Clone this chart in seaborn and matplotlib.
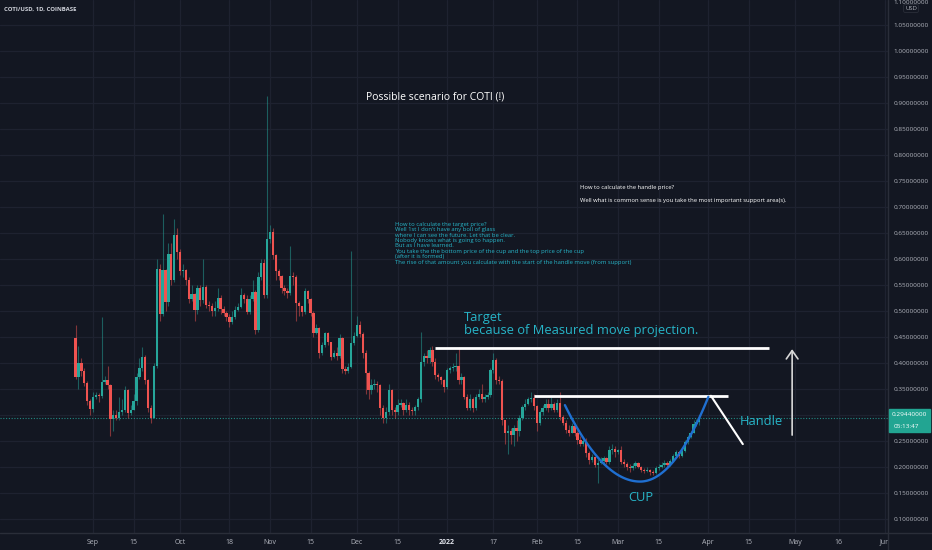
import numpy as np
import pandas as pd
import matplotlib
matplotlib.use("Agg")
import matplotlib.pyplot as plt
import matplotlib.dates as mdates
from matplotlib.patches import Rectangle
import seaborn as sns

# ---------------- data ----------------
START = "2021-08-26"
first_open = 0.449
closes = [
    .374, .40, .385, .361, .326, .312, .335, .339, .336, .364,
    .367, .358, .292, .30, .295, .305, .31, .348, .304, .31,
    .326, .374, .39, .412, .367, .313, .295, .395, .58, .494,
    .578, .518, .61, .56, .646, .613, .577, .578, .56, .523,
    .533, .501, .544, .522, .547, .512, .509, .50, .505, .525,
    .503, .497, .489, .479, .489, .502, .508, .531, .523, .499,
    .523, .537, .463, .566, .593, .531, .638, .652, .608, .577,
    .568, .544, .538, .535, .568, .566, .515, .509, .498, .538,
    .523, .497, .457, .467, .419, .435, .457, .44, .412, .42,
    .413, .448, .388, .385, .392, .438, .452, .474, .455, .42,
    .38, .348,
    .358, .36, .358, .313, .294, .305, .348, .31, .305, .32,
    .324, .31, .32, .31, .307, .316, .33, .402, .414, .41,
    .425, .402, .377, .374, .367, .354, .387, .39, .393, .395,
    .367, .373, .335, .313, .33, .313, .335, .34, .33, .335,
    .338, .387, .405, .367, .365, .29, .265, .27, .262, .275,
    .27, .294, .315, .322, .33,
    .333, .318, .285, .306, .313, .322, .313, .322, .31, .323,
    .296, .285, .271, .266, .278, .265, .252, .245, .25, .227,
    .213, .22, .204, .208, .212, .218, .21, .233, .235, .228,
    .232, .21, .206, .20, .198, .202, .208, .20, .195, .192,
    .195, .19, .188, .198, .20, .204, .208, .204, .212, .222,
    .228, .222, .23, .248, .258, .265, .282, .286, .2944,
]
highs = [
    .473, .433, .41, .39, .365, .33, .345, .345, .342, .489,
    .375, .395, .36, .31, .31, .335, .33, .355, .35, .32,
    .34, .38, .41, .43, .415, .37, .32, .40, .60, .59,
    .687, .58, .63, .63, .677, .66, .62, .59, .58, .565,
    .55, .535, .55, .55, .60, .55, .52, .515, .52, .545,
    .53, .51, .50, .495, .50, .51, .515, .545, .535, .53,
    .53, .56, .54, .575, .60, .60, .913, .665, .66, .61,
    .58, .57, .55, .545, .625, .575, .57, .52, .51, .545,
    .54, .525, .50, .475, .47, .44, .46, .46, .44, .425,
    .43, .455, .45, .395, .40, .616, .46, .49, .48, .46,
    .425, .385,
    .37, .37, .365, .36, .32, .315, .36, .35, .315, .33,
    .33, .325, .33, .325, .315, .32, .335, .46, .42, .425,
    .43, .432, .41, .38, .375, .37, .39, .395, .40, .42,
    .43, .38, .375, .34, .34, .335, .34, .35, .36, .34,
    .345, .39, .42, .41, .375, .37, .29, .28, .275, .28,
    .29, .30, .32, .33, .335,
    .345, .34, .32, .31, .32, .33, .33, .335, .325, .33,
    .345, .30, .29, .28, .285, .285, .27, .26, .255, .255,
    .23, .225, .22, .215, .22, .222, .22, .24, .245, .24,
    .235, .24, .215, .21, .205, .208, .212, .21, .202, .198,
    .20, .197, .195, .202, .205, .21, .213, .212, .216, .225,
    .232, .23, .235, .252, .262, .27, .29, .292, .30,
]
lows = [
    .37, .35, .375, .355, .32, .30, .305, .33, .325, .333,
    .36, .35, .26, .27, .29, .29, .30, .305, .295, .30,
    .31, .32, .37, .385, .36, .305, .285, .295, .39, .48,
    .49, .50, .51, .55, .555, .60, .57, .565, .55, .515,
    .52, .48, .495, .51, .515, .505, .50, .49, .49, .50,
    .495, .49, .48, .47, .475, .485, .50, .505, .515, .495,
    .495, .52, .455, .46, .56, .525, .525, .63, .60, .56,
    .56, .535, .53, .525, .53, .55, .48, .49, .49, .495,
    .515, .49, .45, .455, .41, .415, .43, .435, .405, .41,
    .405, .41, .38, .378, .38, .39, .435, .45, .45, .41,
    .34, .33,
    .34, .35, .345, .30, .285, .285, .30, .30, .295, .30,
    .315, .30, .305, .30, .30, .30, .31, .325, .395, .40,
    .40, .395, .37, .365, .36, .345, .35, .38, .385, .385,
    .36, .36, .33, .31, .31, .305, .31, .33, .325, .325,
    .33, .335, .38, .36, .36, .28, .245, .225, .245, .24,
    .25, .26, .29, .31, .32,
    .325, .31, .27, .28, .30, .31, .305, .31, .305, .305,
    .29, .28, .265, .26, .265, .26, .245, .24, .24, .22,
    .205, .21, .20, .17, .205, .205, .205, .205, .225, .22,
    .225, .205, .20, .195, .19, .195, .198, .198, .19, .188,
    .19, .185, .185, .186, .195, .198, .20, .198, .202, .21,
    .22, .218, .22, .228, .245, .255, .265, .278, .28,
]

last_price = 0.2944
price_ticks = [0.10, 0.15, 0.20, 0.25, 0.35, 0.40, 0.45, 0.50, 0.55, 0.60,
               0.65, 0.70, 0.75, 0.80, 0.85, 0.90, 0.95, 1.00, 1.05]
date_ticks = ["2021-09-01", "2021-09-15", "2021-10-01", "2021-10-18", "2021-11-01",
              "2021-11-15", "2021-12-01", "2021-12-15", "2022-01-01", "2022-01-17",
              "2022-02-01", "2022-02-15", "2022-03-01", "2022-03-15", "2022-04-01",
              "2022-04-15", "2022-05-01", "2022-05-16", "2022-06-01"]
date_labels = ["Sep", "15", "Oct", "18", "Nov", "15", "Dec", "15", "2022", "17",
               "Feb", "15", "Mar", "15", "Apr", "15", "May", "16", "Jun"]

# drawing anchors (date, price)
target_line = (["2021-12-28", "2022-04-22"], [0.429, 0.429])
handle_top = (["2022-01-31", "2022-04-08"], [0.337, 0.337])
handle_diag = (["2022-04-02", "2022-04-13"], [0.337, 0.244])
cup_anchor_dates = ["2022-02-10 16:00", "2022-03-08 14:00", "2022-04-01 03:00"]
cup_anchor_prices = [0.319, 0.172, 0.335]
arrow_date = "2022-04-30"
arrow_prices = [0.256, 0.432]

# ---------------- style ----------------
BG = "#131722"
GRID = "#1e2230"
UP = "#26a69a"
DOWN = "#ef5350"
CYAN = "#27b5c8"
AXTXT = "#b2b5be"

sns.set_theme(style="dark", rc={"axes.facecolor": BG, "figure.facecolor": BG})
plt.rcParams["font.family"] = ["Open Sans", "DejaVu Sans"]

fig = plt.figure(figsize=(9.32, 5.5), dpi=100)
ax = fig.add_axes([0, 17 / 550, 888 / 932, 533 / 550])
ax.set_facecolor(BG)

n = len(closes)
assert len(highs) == n and len(lows) == n
dates = pd.date_range(START, periods=n, freq="D")
x = mdates.date2num(dates)
c = np.array(closes)
o = np.array([first_open] + closes[:-1])
h = np.array(highs)
l = np.array(lows)
up = c >= o
cols = np.where(up, UP, DOWN)

PX_PER_DAY = 2.901
x_sep = mdates.date2num(pd.Timestamp("2021-09-01"))
x0 = x_sep - 93 / PX_PER_DAY
x1 = x0 + 888 / PX_PER_DAY
ax.set_xlim(x0, x1)
ax.set_ylim(1 - 482 / 520, 1 + 51 / 520)

# grid
for pt in price_ticks + [0.30]:
    ax.axhline(pt, color=GRID, lw=0.9, zorder=0)
for d in date_ticks:
    ax.axvline(mdates.date2num(pd.Timestamp(d)), color=GRID, lw=0.9, zorder=0)

# candles
ax.vlines(x, l, h, colors=cols, lw=0.8, alpha=0.5, zorder=2)
body_lo = np.minimum(o, c)
body_h = np.maximum(np.abs(c - o), 0.0015)
ax.bar(x, body_h, bottom=body_lo, width=0.8, color=cols, lw=0, zorder=3)

# last price line
ax.axhline(last_price, color=UP, lw=0.8, ls=(0, (1, 1.5)), alpha=0.8, zorder=1)

# drawings
def dn(ds):
    return mdates.date2num(pd.to_datetime(ds))

ax.plot(dn(target_line[0]), target_line[1], color="white", lw=2, solid_capstyle="butt", zorder=5)
ax.plot(dn(handle_top[0]), handle_top[1], color="white", lw=2, solid_capstyle="butt", zorder=5)
ax.plot(dn(handle_diag[0]), handle_diag[1], color="white", lw=1.5, zorder=5)

cx = dn(cup_anchor_dates)
t = np.linspace(0, 1, 60)
left_x = cx[0] + (cx[1] - cx[0]) * t
left_y = cup_anchor_prices[1] + (cup_anchor_prices[0] - cup_anchor_prices[1]) * (1 - t) ** 2
right_x = cx[1] + (cx[2] - cx[1]) * t
right_y = cup_anchor_prices[1] + (cup_anchor_prices[2] - cup_anchor_prices[1]) * t ** 2
cup_df = pd.DataFrame({"x": np.concatenate([left_x, right_x]),
                       "y": np.concatenate([left_y, right_y])})
sns.lineplot(data=cup_df, x="x", y="y", ax=ax, color="#1f6fd1", lw=1.7, sort=False,
             estimator=None, zorder=6)

ax.annotate("", xy=(dn(arrow_date), arrow_prices[1]), xytext=(dn(arrow_date), arrow_prices[0]),
            arrowprops=dict(arrowstyle="->,head_length=0.5,head_width=0.35", color="#d8d8d8", lw=1.2),
            zorder=6)

# texts
ax.text(dn("2021-12-04"), 0.912, "Possible scenario for COTI (!)", color="white",
        fontsize=7.5, va="center", ha="left", zorder=7)
cyan_block = ("How to calculate the target price?\n"
              "Well 1st I don't have any boll of glass\n"
              "where I can see the future. Let that be clear.\n"
              "Nobody knows what is going to happen.\n"
              "But as I have learned.\n"
              "You take the the bottom price of the cup and the top price of the cup\n"
              "(after it is formed)\n"
              "The rise of that amount you calculate with the start of the handle move (from support)")
ax.text(dn("2021-12-14"), 0.672, cyan_block, color=CYAN, fontsize=4.2, va="top", ha="left",
        linespacing=1.12, zorder=7)
ax.text(dn("2022-02-16"), 0.738, "How to calculate the handle price?", color="white",
        fontsize=4.2, va="center", ha="left", zorder=7)
ax.text(dn("2022-02-16"), 0.712,
        "Well what is common sense is you take the most important support area(s).",
        color="white", fontsize=4.2, va="center", ha="left", zorder=7)
ax.text(dn("2022-01-07"), 0.487, "Target", color=CYAN, fontsize=9.3, va="center", ha="left", zorder=7)
ax.text(dn("2022-01-07"), 0.463, "because of Measured move projection.", color=CYAN, fontsize=9.3,
        va="center", ha="left", zorder=7)
ax.text(dn("2022-03-09"), 0.142, "CUP", color=CYAN, fontsize=9.3, va="center", ha="center", zorder=7)
ax.text(dn("2022-04-12"), 0.287, "Handle", color=CYAN, fontsize=9.3, va="center", ha="left", zorder=7)

# axes / ticks
ax.set_xticks(dn(date_ticks))
ax.set_xticklabels(date_labels)
ax.set_yticks(price_ticks)
ax.set_yticklabels([f"{v:.8f}" for v in price_ticks])
ax.yaxis.tick_right()
ax.tick_params(axis="x", length=0, pad=4, labelsize=5.0, colors=AXTXT)
ax.tick_params(axis="y", length=0, pad=4, labelsize=4.6, colors=AXTXT)
for lab in ax.get_xticklabels():
    if lab.get_text() == "2022":
        lab.set_color("#e0e3eb")
        lab.set_fontweight("bold")
ax.set_xlabel("")
ax.set_ylabel("")
for s in ax.spines.values():
    s.set_visible(False)
ax.grid(False)

# separators
fig.add_artist(plt.Line2D([888 / 932, 888 / 932], [0, 1], color="#2a2e39", lw=1))
fig.add_artist(plt.Line2D([0, 1], [17 / 550, 17 / 550], color="#2a2e39", lw=1))

# header
fig.text(4 / 932, 1 - 9 / 550, "COTI/USD, 1D, COINBASE", color="#d1d4dc", fontsize=4.3,
         fontweight="bold", va="center", ha="left")

# top of price scale
fig.text(893 / 932, 1 - 2 / 550, "1.10000000", color=AXTXT, fontsize=4.6, va="center", ha="left")
fig.text(911 / 932, 1 - 8.5 / 550, "USD", color=AXTXT, fontsize=4.2, va="center", ha="center",
         bbox=dict(boxstyle="round,pad=0.25", fc=BG, ec="#2a2e39", lw=0.6))

# last price label
fig.add_artist(Rectangle((889 / 932, 1 - 432 / 550), 41 / 932, 23 / 550,
                         transform=fig.transFigure, color="#22a592", zorder=5))
fig.text(909.5 / 932, 1 - 414.5 / 550, "0.29440000", color="white", fontsize=4.6,
         va="center", ha="center", zorder=6)
fig.text(906 / 932, 1 - 426 / 550, "05:13:47", color="white", fontsize=4.6,
         va="center", ha="center", zorder=6)

fig.savefig("out.png", dpi=100, facecolor=BG)
